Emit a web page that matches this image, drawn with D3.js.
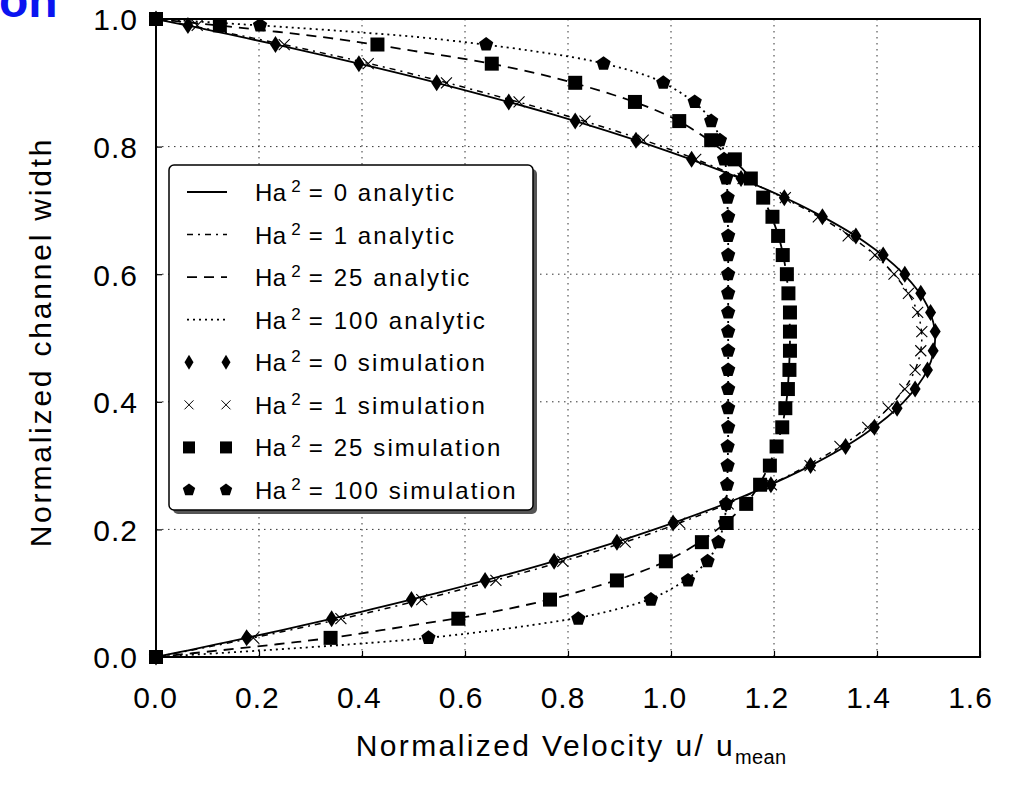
<!DOCTYPE html>
<html>
<head>
<meta charset="utf-8">
<script src="https://cdn.jsdelivr.net/npm/d3@7/dist/d3.min.js"></script>
<style>
  html, body { margin: 0; padding: 0; background: #fff; }
  svg { display: block; }
  text { font-family: "Liberation Sans", Arial, sans-serif; fill: #000; }
</style>
</head>
<body>
<svg id="chart" width="1012" height="789"></svg>
<script>
// ---------- data ----------
const xTicks = [0.0, 0.2, 0.4, 0.6, 0.8, 1.0, 1.2, 1.4, 1.6];
const yTicks = [0.0, 0.2, 0.4, 0.6, 0.8, 1.0];

// analytic curves (channel position -> normalized velocity)
const analyticY = [0, 0.01, 0.02, 0.03, 0.05, 0.07, 0.10, 0.15, 0.20, 0.25, 0.30, 0.35, 0.40, 0.45, 0.50,
                   0.55, 0.60, 0.65, 0.70, 0.75, 0.80, 0.85, 0.90, 0.93, 0.95, 0.97, 0.98, 0.99, 1.0];
const analyticHa0 = [0, 0.060, 0.119, 0.176, 0.287, 0.394, 0.545, 0.772, 0.968, 1.135, 1.271, 1.377, 1.452, 1.498, 1.513,
                     1.498, 1.452, 1.377, 1.271, 1.135, 0.968, 0.772, 0.545, 0.394, 0.287, 0.176, 0.119, 0.060, 0];
const analyticHa1 = [0, 0.065, 0.128, 0.189, 0.305, 0.415, 0.565, 0.790, 0.983, 1.138, 1.265, 1.365, 1.433, 1.474, 1.487,
                     1.474, 1.433, 1.365, 1.265, 1.138, 0.983, 0.790, 0.565, 0.415, 0.305, 0.189, 0.128, 0.065, 0];
const analyticHa25 = [0, 0.120, 0.235, 0.339, 0.500, 0.650, 0.810, 0.990, 1.090, 1.155, 1.190, 1.212, 1.224, 1.229, 1.231,
                      1.229, 1.224, 1.212, 1.190, 1.155, 1.090, 0.990, 0.810, 0.650, 0.500, 0.339, 0.235, 0.120, 0];
const analyticHa100 = [0, 0.200, 0.380, 0.529, 0.730, 0.870, 0.985, 1.070, 1.100, 1.108, 1.110, 1.111, 1.111, 1.111, 1.111,
                       1.111, 1.111, 1.111, 1.110, 1.108, 1.100, 1.070, 0.985, 0.870, 0.730, 0.529, 0.380, 0.200, 0];

// simulation points
const simY = [0, 0.03, 0.06, 0.09, 0.12, 0.15, 0.18, 0.21, 0.24, 0.27, 0.30, 0.33, 0.36, 0.39, 0.42, 0.45, 0.48,
              0.51, 0.54, 0.57, 0.60, 0.63, 0.66, 0.69, 0.72, 0.75, 0.78, 0.81, 0.84, 0.87, 0.90, 0.93, 0.96, 0.99, 1.0];
const simHa0 = [0, 0.176, 0.341, 0.496, 0.639, 0.773, 0.895, 1.004, 1.107, 1.194, 1.271, 1.339, 1.395, 1.439, 1.474, 1.498, 1.509,
                1.513, 1.504, 1.485, 1.454, 1.412, 1.359, 1.294, 1.220, 1.136, 1.040, 0.932, 0.814, 0.685, 0.545, 0.394, 0.232, 0.062, 0];
const simHa1 = [0, 0.189, 0.359, 0.516, 0.660, 0.790, 0.911, 1.017, 1.111, 1.195, 1.270, 1.328, 1.382, 1.422, 1.454, 1.474, 1.485,
                1.487, 1.479, 1.461, 1.433, 1.396, 1.344, 1.286, 1.222, 1.140, 1.048, 0.946, 0.833, 0.705, 0.564, 0.412, 0.249, 0.080, 0];
const simHa25 = [0, 0.339, 0.587, 0.765, 0.895, 0.990, 1.060, 1.108, 1.146, 1.173, 1.192, 1.205, 1.216, 1.222, 1.227, 1.230, 1.231,
                 1.231, 1.231, 1.228, 1.225, 1.217, 1.208, 1.197, 1.179, 1.155, 1.124, 1.078, 1.016, 0.930, 0.814, 0.652, 0.430, 0.124, 0];
const simHa100 = [0, 0.529, 0.820, 0.961, 1.033, 1.071, 1.092, 1.105, 1.107, 1.109, 1.110, 1.110, 1.111, 1.111, 1.111, 1.111, 1.111,
                  1.111, 1.111, 1.111, 1.111, 1.111, 1.111, 1.111, 1.110, 1.107, 1.103, 1.095, 1.078, 1.046, 0.985, 0.869, 0.641, 0.202, 0];

const legendHa = ["0", "1", "25", "100", "0", "1", "25", "100"];
const legendKind = ["analytic", "analytic", "analytic", "analytic", "simulation", "simulation", "simulation", "simulation"];

// ---------- layout ----------
const svg = d3.select("#chart");
const X0 = 156, X1 = 980, Y0 = 657, Y1 = 19;
const x = d3.scaleLinear().domain([0, 1.6]).range([X0, X1]);
const y = d3.scaleLinear().domain([0, 1.0]).range([Y0, Y1]);

// cropped title fragment at top-left
svg.append("text").attr("x", -1).attr("y", 17)
  .style("font-size", "48px").style("font-weight", "bold").style("fill", "#0a14f0")
  .text("on");

// grid
const grid = svg.append("g").attr("stroke", "#333").attr("stroke-width", 1).attr("stroke-dasharray", "1.5,4.5");
grid.selectAll(".gx").data(xTicks.slice(1, -1)).enter().append("line")
  .attr("x1", d => x(d)).attr("x2", d => x(d)).attr("y1", Y1).attr("y2", Y0);
grid.selectAll(".gy").data(yTicks.slice(1, -1)).enter().append("line")
  .attr("x1", X0).attr("x2", X1).attr("y1", d => y(d)).attr("y2", d => y(d));

// axes (ticks inside)
const xAxis = d3.axisBottom(x).tickValues(xTicks).tickFormat(d3.format(".1f")).tickSizeInner(-6).tickSizeOuter(0).tickPadding(30);
const yAxis = d3.axisLeft(y).tickValues(yTicks).tickFormat(d3.format(".1f")).tickSizeInner(-6).tickSizeOuter(0).tickPadding(18);
const gx = svg.append("g").attr("transform", `translate(0,${Y0})`).call(xAxis);
const gy = svg.append("g").attr("transform", `translate(${X0},0)`).call(yAxis);
[gx, gy].forEach(g => {
  g.select(".domain").remove();
  g.selectAll(".tick line").attr("stroke", "#000").attr("stroke-width", 1.2);
  g.selectAll(".tick text").style("font-family", "'Liberation Sans', Arial, sans-serif")
    .style("font-size", "30px").style("letter-spacing", "1px").attr("fill", "#000");
});
// labels in the original drift slightly left of their ticks toward the right end
gx.selectAll(".tick text").attr("dx", d => -1 - 9 * d / 1.6).attr("dy", "0.71em");
gy.selectAll(".tick text").attr("dy", "0.36em");

// frame
svg.append("rect").attr("x", X0).attr("y", Y1).attr("width", X1 - X0).attr("height", Y0 - Y1)
  .attr("fill", "none").attr("stroke", "#000").attr("stroke-width", 2);

// axis titles
const xt = svg.append("text").attr("x", 571).attr("y", 756).attr("text-anchor", "middle")
  .style("font-size", "30px").style("letter-spacing", "2.4px");
xt.append("tspan").text("Normalized Velocity u/ u");
xt.append("tspan").attr("dy", 8).style("font-size", "20px").style("letter-spacing", "0.3px").text("mean");

svg.append("text").attr("transform", "translate(51,342) rotate(-90)").attr("text-anchor", "middle")
  .style("font-size", "30px").style("letter-spacing", "2.8px")
  .text("Normalized channel width");

// ---------- lines ----------
const lineStyles = [
  { data: analyticHa0, dash: null, w: 1.8 },
  { data: analyticHa1, dash: "6,5,2,5", w: 1.5 },
  { data: analyticHa25, dash: "10,7", w: 1.8 },
  { data: analyticHa100, dash: "2,4", w: 1.8 }
];
const lineGen = d3.line().x(d => x(d[0])).y(d => y(d[1])).curve(d3.curveCatmullRom);
const plot = svg.append("g");
lineStyles.forEach(s => {
  plot.append("path")
    .datum(s.data.map((v, i) => [v, analyticY[i]]))
    .attr("d", lineGen).attr("fill", "none").attr("stroke", "#000")
    .attr("stroke-width", s.w).attr("stroke-dasharray", s.dash);
});

// ---------- markers ----------
function diamondPath(w, h) { return `M0,${-h/2}L${w/2},0L0,${h/2}L${-w/2},0Z`; }
function crossPath(r) { return `M${-r},${-r}L${r},${r}M${-r},${r}L${r},${-r}`; }
function squarePath(s) { return `M${-s/2},${-s/2}h${s}v${s}h${-s}Z`; }
function pentagonPath(r) {
  const pts = d3.range(5).map(k => {
    const a = -Math.PI / 2 + k * 2 * Math.PI / 5;
    return [r * Math.cos(a), r * Math.sin(a)];
  });
  return "M" + pts.map(p => p[0].toFixed(2) + "," + p[1].toFixed(2)).join("L") + "Z";
}
const markerDefs = {
  diamond: { d: diamondPath(11, 17), fill: "#000", stroke: "none" },
  cross: { d: crossPath(5.5), fill: "none", stroke: "#000" },
  square: { d: squarePath(14), fill: "#000", stroke: "none" },
  pentagon: { d: pentagonPath(7.5), fill: "#000", stroke: "none" }
};
const legMarkerDefs = {
  diamond: { d: diamondPath(9, 15), fill: "#000", stroke: "none" },
  cross: { d: crossPath(4.5), fill: "none", stroke: "#000" },
  square: { d: squarePath(12), fill: "#000", stroke: "none" },
  pentagon: { d: pentagonPath(6.5), fill: "#000", stroke: "none" }
};

const simSeries = [
  { data: simHa0, m: "diamond" },
  { data: simHa1, m: "cross" },
  { data: simHa100, m: "pentagon" },
  { data: simHa25, m: "square" }
];
simSeries.forEach(s => {
  const md = markerDefs[s.m];
  plot.append("g").selectAll("path").data(s.data.map((v, i) => [v, simY[i]])).enter().append("path")
    .attr("transform", d => `translate(${x(d[0])},${y(d[1])})`)
    .attr("d", md.d).attr("fill", md.fill).attr("stroke", md.stroke).attr("stroke-width", 1.1);
});

// ---------- legend ----------
const LX = 169, LY = 165, LW = 364, LH = 345;
svg.append("rect").attr("x", LX + 4).attr("y", LY + 4).attr("width", LW).attr("height", LH)
  .attr("rx", 5).attr("fill", "#555");
svg.append("rect").attr("x", LX).attr("y", LY).attr("width", LW).attr("height", LH)
  .attr("rx", 5).attr("fill", "#fff").attr("stroke", "#000").attr("stroke-width", 1.5);

const rowY = d3.scaleLinear().domain([0, 7]).range([192, 490]);
const legMarkers = ["diamond", "cross", "square", "pentagon"];
legendHa.forEach((h, i) => {
  const cy = rowY(i);
  if (i < 4) {
    const s = lineStyles[i];
    svg.append("line").attr("x1", 187).attr("x2", 227).attr("y1", cy).attr("y2", cy)
      .attr("stroke", "#000").attr("stroke-width", s.w).attr("stroke-dasharray", s.dash);
  } else {
    const md = legMarkerDefs[legMarkers[i - 4]];
    [189, 226].forEach(mx => {
      svg.append("path").attr("transform", `translate(${mx},${cy})`)
        .attr("d", md.d).attr("fill", md.fill).attr("stroke", md.stroke).attr("stroke-width", 1);
    });
  }
  const t = svg.append("text").attr("x", 255).attr("y", cy + 9).style("font-size", "24px");
  t.append("tspan").style("letter-spacing", "0.3px").text("Ha");
  t.append("tspan").attr("dx", 5).attr("dy", -9).style("font-size", "17px").text("2");
  t.append("tspan").attr("dy", 9).attr("dx", 8).style("letter-spacing", "2.1px")
    .text("= " + h + " " + legendKind[i]);
});
</script>
</body>
</html>
